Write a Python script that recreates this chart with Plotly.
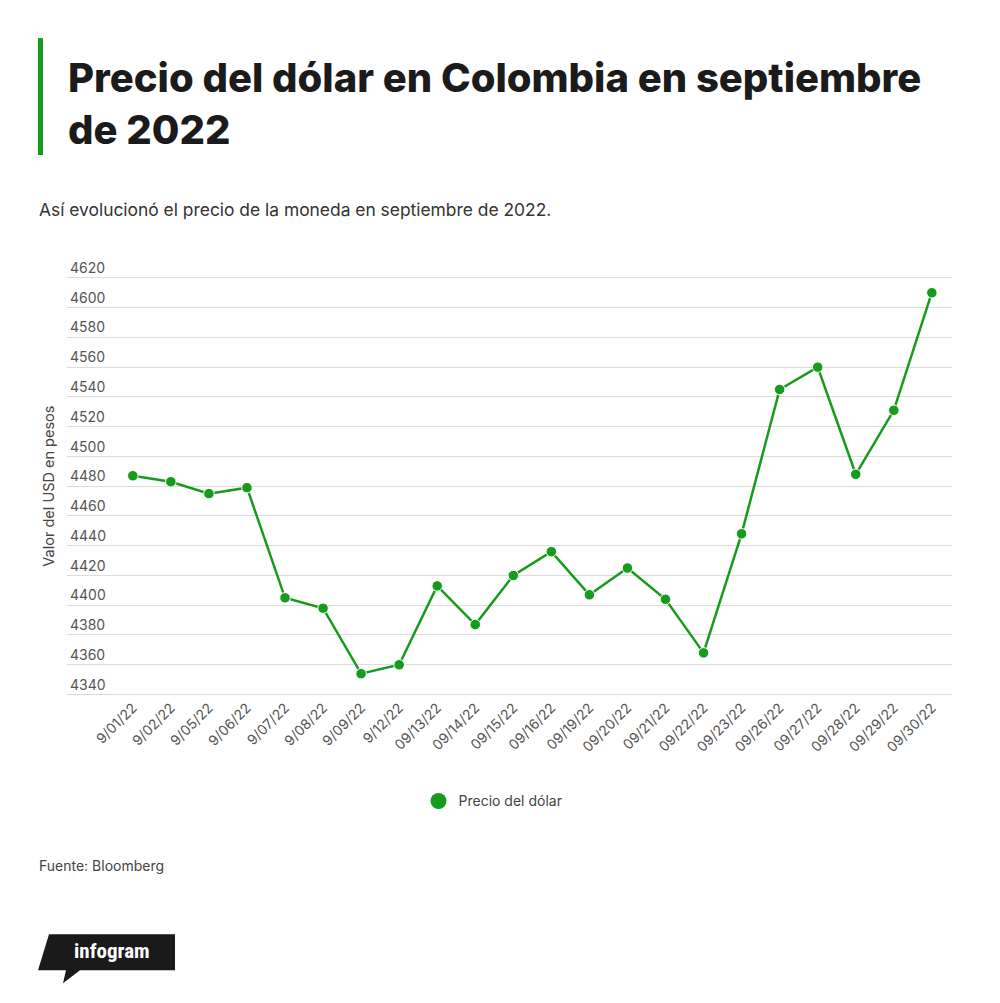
import plotly.graph_objects as go

fechas = ['9/01/22', '9/02/22', '9/05/22', '9/06/22', '9/07/22', '9/08/22', '9/09/22',
          '9/12/22', '09/13/22', '09/14/22', '09/15/22', '09/16/22', '09/19/22', '09/20/22',
          '09/21/22', '09/22/22', '09/23/22', '09/26/22', '09/27/22', '09/28/22', '09/29/22',
          '09/30/22']
precio = [4487, 4483, 4475, 4479, 4405, 4398, 4354, 4360, 4413, 4387, 4420, 4436, 4407,
          4425, 4404, 4368, 4448, 4545, 4560, 4488, 4531, 4610]
y_ticks = list(range(4340, 4621, 20))

# page has an 8px body margin, so work in screen pixels and shift
OFF = 8
W, H = 1000 - OFF, 1003 - OFF
L, R = 67 - OFF, 1000 - 952
T, B = 260.1 - OFF, 1003 - 696.5
VERDE = '#169b1c'

def px(x):
    return (x - OFF - L) / (W - L - R)

def py(y):
    return (H - B - (y - OFF)) / (H - T - B)

fig = go.Figure()
fig.add_trace(go.Scatter(x=fechas, y=precio, mode='lines+markers', name='Precio del dólar',
                         line=dict(color=VERDE, width=2.5),
                         marker=dict(color=VERDE, size=10.5, line=dict(color='white', width=1)),
                         showlegend=False))
# legend entry with a bigger dot
fig.add_trace(go.Scatter(x=[None], y=[None], mode='markers', name='Precio del dólar',
                         marker=dict(color=VERDE, size=18)))

fig.update_layout(
    width=W, height=H,
    margin=dict(l=L, r=R, t=T, b=B),
    paper_bgcolor='white', plot_bgcolor='white',
    font=dict(family='Inter, Roboto, sans-serif', color='#444'),
    legend=dict(orientation='h', x=px(493), xanchor='center', y=py(802), yanchor='middle',
                font=dict(size=14, color='#444')),
    xaxis=dict(type='category', range=[-1.73, 21.53], showgrid=False, zeroline=False,
               showline=False, tickangle=-45, tickfont=dict(size=14, color='#555'), ticks=''),
    yaxis=dict(range=[4339, 4632], tickvals=y_ticks, ticklabelposition='inside top',
               ticklabeloverflow='allow',
               gridcolor='#dcdcdc', gridwidth=1, zeroline=False, showline=False,
               tickfont=dict(size=14, color='#555'), ticks=''),
)

shapes = [
    dict(type='rect', xref='paper', yref='paper', x0=px(38), x1=px(43), y0=py(155), y1=py(38),
         fillcolor=VERDE, line=dict(width=0)),
    dict(type='path', xref='paper', yref='paper', fillcolor='#1a1a1a', line=dict(width=0),
         path=f'M {px(49)},{py(935)} L {px(175)},{py(935)} L {px(175)},{py(971)} '
              f'L {px(80)},{py(971)} L {px(63)},{py(984)} L {px(66)},{py(971)} '
              f'L {px(38)},{py(971)} Z'),
]
fig.update_layout(shapes=shapes)

annotations = [
    dict(text='Precio del dólar en Colombia en septiembre<br>de 2022', x=px(66), y=py(103),
         xanchor='left', yanchor='middle', align='left',
         font=dict(size=40, color='#1b1b1b', family='Inter, Roboto, sans-serif', weight=800)),
    dict(text='Así evolucionó el precio de la moneda en septiembre de 2022.', x=px(37), y=py(210),
         xanchor='left', yanchor='middle', font=dict(size=17.4, color='#333')),
    dict(text='Valor del USD en pesos', x=px(49), y=py(487), textangle=-90, xanchor='center',
         yanchor='middle', font=dict(size=14.5, color='#444')),
    dict(text='Fuente: Bloomberg', x=px(37), y=py(866), xanchor='left', yanchor='middle',
         font=dict(size=14, color='#444')),
    dict(text='<b>infogram</b>', x=px(112), y=py(952), xanchor='center', yanchor='middle',
         font=dict(size=21, color='white', family='Roboto Condensed, Roboto, sans-serif')),
]
for a in annotations:
    a.update(xref='paper', yref='paper', showarrow=False)
fig.update_layout(annotations=annotations)

fig.write_html('out.html')
